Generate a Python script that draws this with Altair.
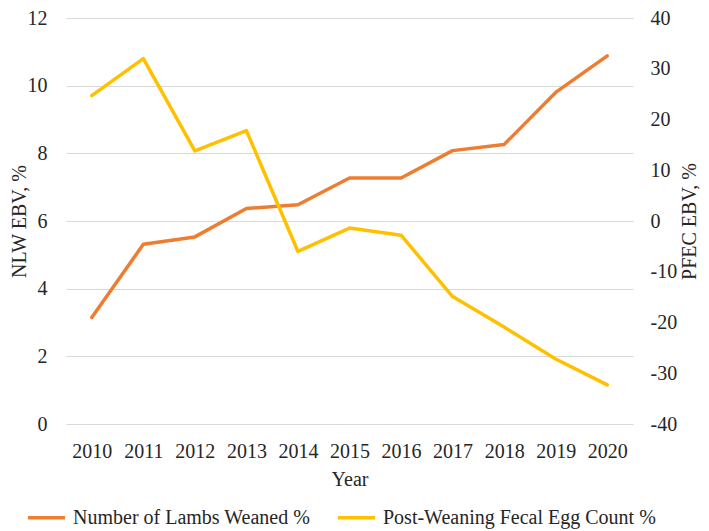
import altair as alt
import pandas as pd

years = [2010, 2011, 2012, 2013, 2014, 2015, 2016, 2017, 2018, 2019, 2020]
nlw = [3.15, 5.31, 5.53, 6.37, 6.48, 7.27, 7.27, 8.08, 8.26, 9.80, 10.88]
pfec = [24.7, 32.0, 13.8, 17.8, -6.0, -1.4, -2.8, -14.9, -20.9, -27.2, -32.3]
series_names = ["Number of Lambs Weaned %", "Post-Weaning Fecal Egg Count %"]
colors = ["#ED7D31", "#FFC000"]
left_ticks = [0, 2, 4, 6, 8, 10, 12]
right_ticks = [-40, -30, -20, -10, 0, 10, 20, 30, 40]

df1 = pd.DataFrame({"Year": years, "value": nlw, "series": series_names[0]})
df2 = pd.DataFrame({"Year": years, "value": pfec, "series": series_names[1]})

FONT = "Liberation Serif"
TXT = "#262626"
FS = 20
H = 406

x = alt.X("Year:O", title="Year",
          axis=alt.Axis(labelAngle=0, grid=False, ticks=False, domain=False,
                        labelFont=FONT, labelPadding=17, titlePadding=8))

color = alt.Color("series:N",
                  scale=alt.Scale(domain=series_names, range=colors),
                  legend=alt.Legend(title=None, orient="none", direction="horizontal",
                                    legendX=-40, legendY=H + 73,
                                    symbolType="stroke", symbolSize=1369,
                                    symbolStrokeWidth=3.5, labelOffset=6,
                                    columnPadding=20, padding=0,
                                    labelFont=FONT, labelFontSize=FS,
                                    labelColor=TXT, labelLimit=400))

line_kw = dict(strokeWidth=3.5, strokeCap="round", strokeJoin="round")

left = alt.Chart(df1).mark_line(**line_kw).encode(
    x=x,
    y=alt.Y("value:Q", scale=alt.Scale(domain=[0, 12], nice=False, zero=False),
            axis=alt.Axis(title="NLW EBV, %", orient="left", values=left_ticks,
                          grid=True, labelPadding=19, labelFont=FONT,
                          titleAngle=270, titleBaseline="middle",
                          titleX=-47, titleY=H / 2, titleAlign="center")),
    color=color,
)

right = alt.Chart(df2).mark_line(**line_kw).encode(
    x=x,
    y=alt.Y("value:Q", scale=alt.Scale(domain=[-40, 40], nice=False, zero=False),
            axis=alt.Axis(title="PFEC EBV, %", orient="right", values=right_ticks,
                          grid=False, labelPadding=17, labelFont=FONT,
                          labelExpr="'' + datum.value",
                          titleAngle=270, titleBaseline="middle",
                          titleX=56, titleY=H / 2, titleAlign="center")),
    color=color,
)

chart = (
    alt.layer(left, right)
    .resolve_scale(y="independent")
    .properties(width=567, height=H, autosize="none",
                padding={"left": 58, "top": 10, "right": 68, "bottom": 523 - 10 - H})
    .configure(font=FONT,
               style={"guide-label": {"font": FONT, "fill": TXT},
                      "guide-title": {"font": FONT, "fill": TXT}})
    .configure_view(stroke=None)
    .configure_axis(labelFont=FONT, labelFontSize=FS, labelColor=TXT,
                    titleFont=FONT, titleFontSize=FS, titleColor=TXT,
                    titleFontWeight="normal", gridColor="#D9D9D9", gridWidth=1,
                    ticks=False, domain=False)
    .configure_legend(labelFont=FONT)
)

chart.save("out.html", embed_options={"renderer": "svg", "actions": False})
